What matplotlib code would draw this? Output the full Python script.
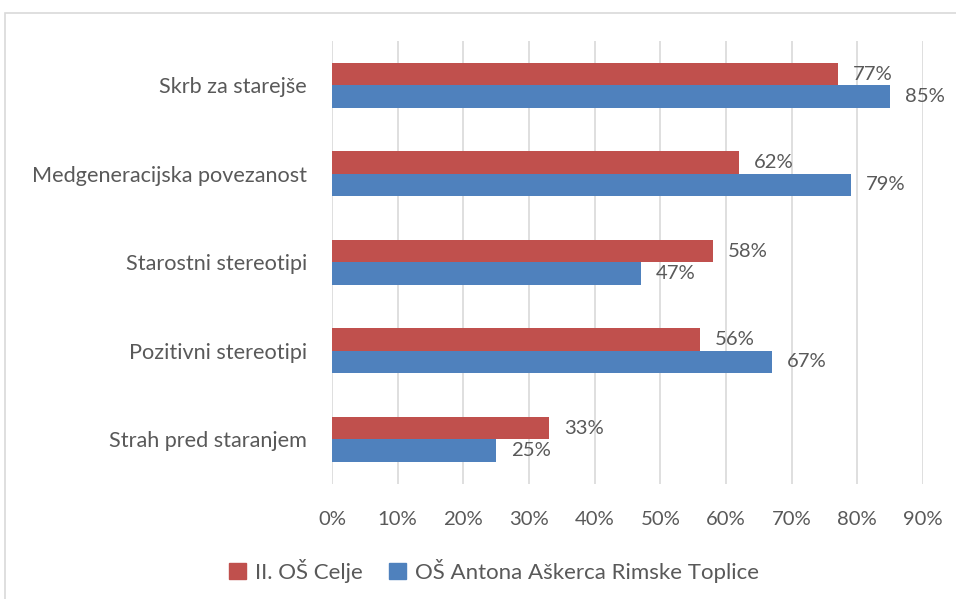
import matplotlib.pyplot as plt
import matplotlib.patches as mpatches
import numpy as np

plt.rcParams['font.family'] = ['Lato', 'DejaVu Sans']

categories = ['Strah pred staranjem', 'Pozitivni stereotipi', 'Starostni stereotipi',
              'Medgeneracijska povezanost', 'Skrb za starejše']
celje = [33, 56, 58, 62, 77]
rimske = [25, 67, 47, 79, 85]
series_names = ['II. OŠ Celje', 'OŠ Antona Aškerca Rimske Toplice']
xticks = [0, 10, 20, 30, 40, 50, 60, 70, 80, 90]

red = '#C0504D'
blue = '#4F81BD'
txt = '#595959'

fig = plt.figure(figsize=(9.56, 5.99), dpi=100)
W, H = 956, 599
ax = fig.add_axes([332 / W, 1 - 483.5 / H, (923 - 332) / W, (483.5 - 41) / H])

y = np.arange(len(categories))
h = 0.254
ax.barh(y + h / 2, celje, height=h, color=red, label=series_names[0], zorder=3)
ax.barh(y - h / 2, rimske, height=h, color=blue, label=series_names[1], zorder=3)

for yi, v in zip(y, celje):
    ax.text(v + 2.3, yi + h / 2, f'{v}%', va='center', ha='left', fontsize=14.6, color=txt)
for yi, v in zip(y, rimske):
    ax.text(v + 2.3, yi - h / 2, f'{v}%', va='center', ha='left', fontsize=14.6, color=txt)

ax.set_xlim(0, 90)
ax.set_ylim(-0.5, len(categories) - 0.5)
ax.set_xticks(xticks)
ax.set_xticklabels([f'{t}%' for t in xticks])
ax.set_yticks(y)
ax.set_yticklabels(categories)
ax.tick_params(axis='x', length=0, pad=20, labelsize=14.6, labelcolor=txt)
ax.tick_params(axis='y', length=0, pad=18, labelsize=15.6, labelcolor=txt)
ax.grid(axis='x', color='#D9D9D9', linewidth=1.2, zorder=0)
for s in ax.spines.values():
    s.set_visible(False)

fig.legend(handles=[mpatches.Patch(color=red, label=series_names[0]),
                    mpatches.Patch(color=blue, label=series_names[1])],
           loc='center', bbox_to_anchor=(494 / W, 1 - 571 / H), ncol=2, frameon=False,
           fontsize=16, labelcolor=txt, handlelength=0.75, handleheight=0.75,
           handletextpad=0.4, columnspacing=1.2)

# outer chart frame
fig.patches.append(mpatches.Rectangle((4.5 / W, -0.1), 1.2, 1 - 12.5 / H + 0.1,
                                      transform=fig.transFigure, fill=False,
                                      edgecolor='#D9D9D9', linewidth=1.2))

fig.savefig('out.png', dpi=100)
